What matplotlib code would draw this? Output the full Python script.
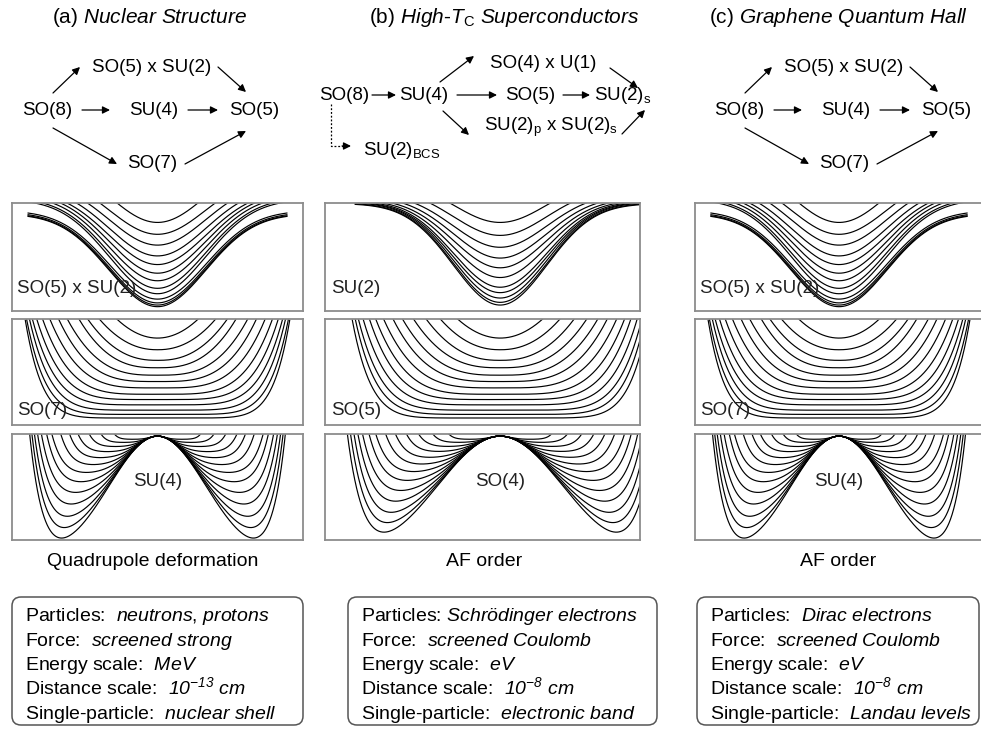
import numpy as np
import matplotlib
matplotlib.use("Agg")
import matplotlib.pyplot as plt
from matplotlib.patches import FancyBboxPatch

plt.rcParams['font.family'] = ['Liberation Sans', 'DejaVu Sans']
plt.rcParams['mathtext.fontset'] = 'custom'
plt.rcParams['mathtext.rm'] = 'Liberation Sans'
plt.rcParams['mathtext.it'] = 'Liberation Sans:italic'
plt.rcParams['mathtext.sf'] = 'Liberation Sans:italic'

# ---- text content ----
titles = [r"(a) $\mathsf{Nuclear}$ $\mathsf{Structure}$",
          r"(b) $\mathsf{High}$-$\mathsf{T}_{\mathrm{C}}$ $\mathsf{Superconductors}$",
          r"(c) $\mathsf{Graphene}$ $\mathsf{Quantum}$ $\mathsf{Hall}$"]
captions = ["Quadrupole deformation", "AF order", "AF order"]
row1_labels = ["SO(5) x SU(2)", "SU(2)", "SO(5) x SU(2)"]
row2_labels = ["SO(7)", "SO(5)", "SO(7)"]
row3_labels = ["SU(4)", "SO(4)", "SU(4)"]
box_lines = [
    [r"Particles:  $\mathsf{neutrons}$, $\mathsf{protons}$",
     r"Force:  $\mathsf{screened}$ $\mathsf{strong}$",
     r"Energy scale:  $\mathsf{MeV}$",
     r"Distance scale:  $\mathsf{10}^{\mathsf{-13}}$ $\mathsf{cm}$",
     r"Single-particle:  $\mathsf{nuclear}$ $\mathsf{shell}$"],
    [r"Particles: $\mathsf{Schrödinger}$ $\mathsf{electrons}$",
     r"Force:  $\mathsf{screened}$ $\mathsf{Coulomb}$",
     r"Energy scale:  $\mathsf{eV}$",
     r"Distance scale:  $\mathsf{10}^{\mathsf{-8}}$ $\mathsf{cm}$",
     r"Single-particle:  $\mathsf{electronic}$ $\mathsf{band}$"],
    [r"Particles:  $\mathsf{Dirac}$ $\mathsf{electrons}$",
     r"Force:  $\mathsf{screened}$ $\mathsf{Coulomb}$",
     r"Energy scale:  $\mathsf{eV}$",
     r"Distance scale:  $\mathsf{10}^{\mathsf{-8}}$ $\mathsf{cm}$",
     r"Single-particle:  $\mathsf{Landau}$ $\mathsf{levels}$"],
]
nodes_ac = ["SO(8)", "SO(5) x SU(2)", "SU(4)", "SO(7)", "SO(5)"]
nodes_b = ["SO(8)", "SU(4)", "SO(4) x U(1)", "SO(5)",
           r"SU(2)$_\mathrm{p}$ x SU(2)$_\mathrm{s}$", r"SU(2)$_\mathrm{s}$",
           r"SU(2)$_\mathrm{BCS}$"]

# ---- curve families (panel units 0..1) ----
# row 1: wells  (minimum, plateau level)
well_min = [0.82, 0.71, 0.61, 0.51, 0.43, 0.35, 0.28, 0.21, 0.16, 0.11, 0.075, 0.055, 0.04]
well_top = [1.43, 1.28, 1.21, 1.16, 1.12, 1.10, 1.075, 1.05, 1.035, 0.93, 0.915, 0.905, 0.90]
su2_min = [0.82, 0.70, 0.59, 0.49, 0.40, 0.31, 0.22, 0.17, 0.12, 0.08, 0.055]
su2_top = [1.23, 1.143, 1.093, 1.065, 1.044, 1.03, 1.021, 1.013, 1.008, 1.0, 0.995]
# row 2: bowls (minimum, half width at top, steepness)
bowl_min = [0.82, 0.71, 0.61, 0.54, 0.47, 0.41, 0.35, 0.29, 0.24, 0.19, 0.14, 0.10, 0.066]
bowl_half = [0.14, 0.20, 0.24, 0.27, 0.31, 0.34, 0.37, 0.395, 0.415, 0.43, 0.44, 0.45, 0.455]
bowl_half_b = [0.135, 0.19, 0.235, 0.275, 0.31, 0.34, 0.37, 0.395, 0.415, 0.435, 0.45, 0.46, 0.47]
bowl_pow = [2.0, 2.2, 2.4, 2.7, 3.0, 3.4, 3.8, 4.3, 4.9, 5.5, 6.2, 7.0, 8.0]
# row 3: double wells (depth, wall position)
dw_depth = [0.03, 0.06, 0.10, 0.15, 0.21, 0.28, 0.36, 0.46, 0.58, 0.72, 0.88, 1.04, 1.2]
dw_wall = [0.20, 0.25, 0.29, 0.326, 0.35, 0.375, 0.40, 0.41, 0.42, 0.425, 0.428, 0.43, 0.432]
dw_wall_b = [0.22, 0.275, 0.32, 0.355, 0.385, 0.41, 0.435, 0.448, 0.46, 0.466, 0.47, 0.474, 0.478]

W, H = 981, 729
fig = plt.figure(figsize=(W / 100, H / 100), dpi=100)
bg = fig.add_axes([0, 0, 1, 1])
bg.set_xlim(0, W)
bg.set_ylim(H, 0)
bg.axis('off')

cols = [(12, 303), (325, 640), (695, 983)]
centers = [0.5, 0.556, 0.5]
rows = [(203, 311), (319, 425), (434, 540)]
u = np.linspace(-0.6, 0.6, 1500)


def panel(cx, ry):
    ax = fig.add_axes([cx[0] / W, 1 - ry[1] / H, (cx[1] - cx[0]) / W, (ry[1] - ry[0]) / H])
    ax.set_xlim(0, 1)
    ax.set_ylim(0, 1)
    ax.set_xticks([])
    ax.set_yticks([])
    for sp in ax.spines.values():
        sp.set_color('#8c8c8c')
        sp.set_linewidth(1.3)
    return ax


lw = 0.85
for j in range(3):
    c = centers[j]
    # row 1
    ax = panel(cols[j], rows[0])
    if j == 1:
        mins, tops, s, ext = su2_min, su2_top, 0.21, 0.46
    else:
        mins, tops, s, ext = well_min, well_top, 0.235, 0.445
    uu = u[np.abs(u) <= ext]
    for m, t in zip(mins, tops):
        ax.plot(c + uu, t - (t - m) * np.exp(-(uu / s) ** 2), color='k', lw=lw)
    ax.text(0.018, 0.21, row1_labels[j], fontsize=13.5, va='center', ha='left', color='#222222')

    # row 2
    ax = panel(cols[j], rows[1])
    halfs = bowl_half_b if j == 1 else bowl_half
    for m, w, q in zip(bowl_min, halfs, bowl_pow):
        uu = u[np.abs(u) <= w]
        ax.plot(c + uu, m + (1 - m) * np.abs(uu / w) ** q, color='k', lw=lw)
    ax.text(0.018, 0.14, row2_labels[j], fontsize=13.5, va='center', ha='left', color='#222222')

    # row 3
    ax = panel(cols[j], rows[2])
    walls = dw_wall_b if j == 1 else dw_wall
    k = 15.0 if j == 1 else 21.5
    for d, w in zip(dw_depth, walls):
        y = 0.98 - d * (1 - np.exp(-k * u ** 2 / d)) + np.abs(u / w) ** 10
        ax.plot(c + u, y, color='k', lw=lw)
    ax.text(c, 0.55, row3_labels[j], fontsize=13.5, va='center', ha='center', color='#222222')

# ---- titles, captions, boxes ----
title_x = [149, 504, 838]
cap_x = [153, 484, 838]
box_x = [(12, 303), (348, 657), (697, 979)]
for j in range(3):
    bg.text(title_x[j], 17, titles[j], fontsize=15, ha='center', va='center')
    bg.text(cap_x[j], 562, captions[j], fontsize=14, ha='center', va='center')
    x0, x1 = box_x[j]
    bg.add_patch(FancyBboxPatch((x0, 597), x1 - x0, 128,
                                boxstyle="round,pad=0,rounding_size=9",
                                fc='none', ec='#555555', lw=1.1))
    for i, line in enumerate(box_lines[j]):
        bg.text(x0 + 13, 621 + 24.5 * i, line, fontsize=14, ha='left', va='baseline')

# ---- group chains ----
fs = 13.5


def arrow(p0, p1, ls='-'):
    bg.annotate('', xy=p1, xytext=p0,
                arrowprops=dict(arrowstyle='-|>', lw=0.9, color='k', ls=ls,
                                mutation_scale=11, shrinkA=0, shrinkB=0))


# (a) and (c)
for ox in [0, 692]:
    pos = [(47, 110), (152, 67), (154, 110), (152, 163), (254, 110)]
    for name, (x, y) in zip(nodes_ac, pos):
        bg.text(x + ox, y, name, fontsize=fs, ha='center', va='center')
    arrow((53 + ox, 93), (80 + ox, 67))
    arrow((218 + ox, 67), (246 + ox, 92))
    arrow((82 + ox, 110), (110 + ox, 110))
    arrow((188 + ox, 110), (218 + ox, 110))
    arrow((53 + ox, 128), (117 + ox, 164))
    arrow((185 + ox, 164), (246 + ox, 131))

# (b)
pos_b = [(344, 95), (424, 95), (543, 63), (530, 95), (551, 127), (623, 95), (402, 150)]
for name, (x, y) in zip(nodes_b, pos_b):
    bg.text(x, y, name, fontsize=fs, ha='center', va='center')
arrow((372, 95), (396, 95))
arrow((440, 82), (474, 56))
arrow((610, 68), (638, 88))
arrow((457, 95), (497, 95))
arrow((563, 95), (590, 95))
arrow((443, 111), (469, 135))
arrow((622, 134), (645, 110))
bg.plot([331, 331, 343], [104, 146, 146], color='k', lw=0.9, ls=(0, (1.5, 1.5)))
arrow((342, 146), (351, 146))

fig.savefig("out.png", dpi=100)
